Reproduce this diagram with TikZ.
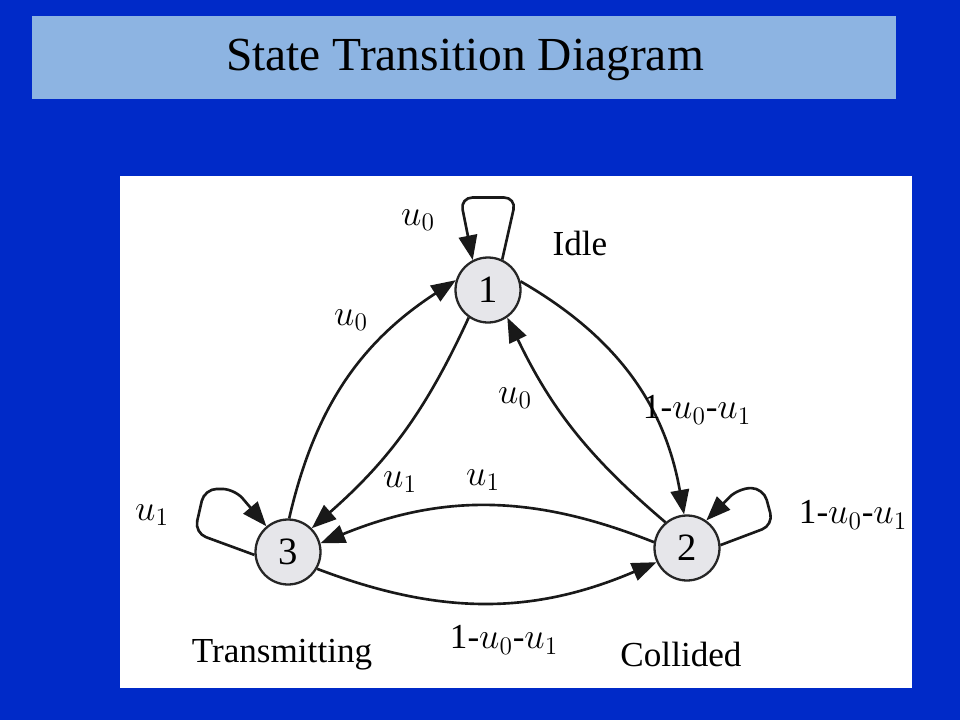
\documentclass[tikz,border=0pt]{standalone}
\usepackage{fontspec}
\setmainfont{Liberation Serif}
\usetikzlibrary{arrows.meta}
\definecolor{slideblue}{RGB}{0,42,200}
\definecolor{barblue}{RGB}{141,180,226}
\definecolor{stgray}{RGB}{230,230,234}

\begin{document}
\begin{tikzpicture}[x=0.02cm, y=-0.02cm,
      stt/.style={circle, draw=black!85, line width=1.3pt, fill=stgray, minimum size=1.3cm, inner sep=0pt, font=\fontsize{22}{26}\selectfont},
      lb/.style={font=\fontsize{20}{24}\selectfont},
      ed/.style={draw=black!90, line width=1.5pt, -{Triangle[length=14pt,width=10.5pt]}}]
    % slide
    \fill[slideblue] (0,0) rectangle (960,720);
    \fill[barblue] (32,16) rectangle (896,99);
    \node[font=\fontsize{27}{32}\selectfont] (title) at (465,60) {State Transition Diagram};
    \fill[white] (120,176) rectangle (912,688);
    % states
    \node[stt] (n1) at (488,290) {1};
    \node[stt] (n2) at (687,548) {2};
    \node[stt] (n3) at (288,552) {3};
    % transitions
    \draw[ed] (n3.88) to[bend left=22] (n1.163);
    \draw[ed] (n1.235) to[bend left=12] (n3.45);
    \draw[ed] (n2.130) to[bend left=12] (n1.305);
    \draw[ed] (n1.15) to[bend left=25] (n2.95);
    \draw[ed] (n2.170) to[bend right=22] (n3.15);
    \draw[ed] (n3.330) to[bend right=22] (n2.205);
    % self loops
    \draw[ed, rounded corners=7pt] (n1.65) -- ++(14,-62) -- ++(-56,0) -- (n1.117);
    \draw[ed, rounded corners=7pt] (n3.185) -- ++(-60,-22) -- ++(10,-44) -- ++(30,0) -- (n3.130);
    \draw[ed, rounded corners=7pt] (n2.5) -- ++(53,-20) -- ++(-10,-37) -- ++(-25,0) -- (n2.55);
    % labels
    \node[lb] (l11) at (418,220) {$u_0$};
    \node[lb] (l31) at (351,320) {$u_0$};
    \node[lb] (l21) at (515,398) {$u_0$};
    \node[lb] (l13) at (400,482) {$u_1$};
    \node[lb] (l23) at (483,480) {$u_1$};
    \node[lb] (l33) at (152,515) {$u_1$};
    \node[lb] (l12) at (697,410) {1-$u_0$-$u_1$};
    \node[lb] (l22) at (853,515) {1-$u_0$-$u_1$};
    \node[lb] (l32) at (504,640) {1-$u_0$-$u_1$};
    \node[lb] (idle) at (580,243) {Idle};
    \node[lb] (trans) at (282,655) {Transmitting};
    \node[lb] (coll) at (681,654) {Collided};
  \end{tikzpicture}
\end{document}
